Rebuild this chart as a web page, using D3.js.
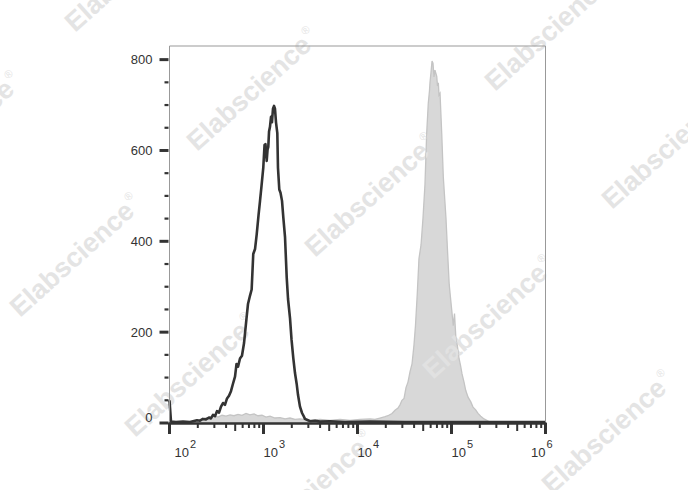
<!DOCTYPE html>
<html><head><meta charset="utf-8">
<script src="https://cdn.jsdelivr.net/npm/d3@7"></script>
<style>body{margin:0;background:#fff}svg{display:block}</style>
</head><body>
<svg id="c" width="688" height="490"></svg>
<script>
// ---- data ----
const yTickValues = [0, 200, 400, 600, 800];
const yMinorStep = 50;
const xDecades = [2, 3, 4, 5, 6];          // exponents: 10^2 … 10^6
const watermarkText = "Elabscience";

// unfilled dark histogram (log10 fluorescence, count)
const blackLogFL = [2.000,2.016,2.069,2.144,2.218,2.293,2.324,2.356,2.388,2.420,2.441,2.463,2.484,2.505,2.527,2.548,2.569,2.590,2.612,2.633,2.654,2.676,2.697,2.713,2.729,2.750,2.771,2.793,2.803,2.819,2.835,2.856,2.874,2.891,2.910,2.928,2.947,2.963,2.979,2.998,3.011,3.021,3.034,3.043,3.051,3.059,3.069,3.080,3.090,3.101,3.112,3.122,3.133,3.147,3.154,3.168,3.181,3.197,3.211,3.229,3.247,3.261,3.282,3.298,3.317,3.335,3.353,3.367,3.388,3.410,3.423,3.441,3.473,3.495,3.548,3.601,3.707,3.867,4.133,4.500,5.000,6.000];
const blackCount = [50,3,2,3,2,6,5,9,8,12,10,18,15,26,23,36,44,40,54,60,70,87,102,130,124,142,148,176,197,230,262,280,294,372,383,416,457,489,522,563,612,614,577,602,608,642,652,674,662,692,698,692,662,638,562,514,507,489,452,409,320,273,231,184,143,110,86,62,36,22,17,9,6,4,5,3,4,2,3,2,2,2];

// filled grey histogram
const greyLogFL = [2.000,2.218,2.293,2.356,2.431,2.473,2.516,2.559,2.601,2.644,2.686,2.729,2.771,2.814,2.856,2.899,2.941,2.984,3.027,3.069,3.122,3.176,3.229,3.282,3.335,3.388,3.495,3.601,3.707,3.814,3.920,4.027,4.133,4.186,4.239,4.293,4.324,4.367,4.399,4.431,4.452,4.473,4.495,4.516,4.537,4.559,4.580,4.601,4.617,4.636,4.654,4.676,4.697,4.718,4.736,4.753,4.766,4.771,4.782,4.793,4.803,4.814,4.824,4.843,4.851,4.860,4.867,4.878,4.896,4.913,4.941,4.957,4.976,4.995,5.019,5.032,5.048,5.062,5.080,5.096,5.112,5.133,5.151,5.176,5.204,5.229,5.257,5.282,5.311,5.346,5.399,5.450,6.000];
const greyCount = [0,1,4,9,13,16,13,17,15,18,16,19,17,21,18,20,16,17,13,15,11,12,9,11,8,9,6,8,6,8,6,8,9,8,11,14,16,21,28,33,40,50,54,78,90,113,130,172,215,285,362,392,452,526,638,704,732,749,772,797,792,762,777,763,742,749,722,726,638,541,452,382,304,264,214,241,182,171,142,127,108,90,72,57,47,35,29,21,15,9,3,0,0];

// ---- layout ----
const FONT = "'Liberation Sans', Arial, Helvetica, sans-serif";
const plot = {left: 169.5, right: 545.5, top: 46, bottom: 423};
const x = d3.scaleLinear().domain([2, 6]).range([plot.left, plot.right]);
const y = d3.scaleLinear().domain([0, 830]).range([plot.bottom, plot.top]);

// watermark baseline starting points (decoration)
const watermarkAnchors = [[75,33],[197,152],[315,258],[433,380],[552,495],[-100,196],[20,318],[135,438],[253,555],[495,92],[612,210]];

const svg = d3.select("#c");
svg.append("rect").attr("width", 688).attr("height", 490).attr("fill", "#fff");

function drawWatermarks(g, color) {
  watermarkAnchors.forEach(([wx, wy]) => {
    const t = g.append("text")
      .attr("transform", `translate(${wx},${wy}) rotate(-42)`)
      .attr("font-family", FONT).attr("font-weight", "bold")
      .attr("font-size", 27).attr("fill", color);
    t.append("tspan").text(watermarkText);
    t.append("tspan").attr("font-size", 11).attr("font-weight", "normal")
      .attr("dx", 2).attr("dy", -14).text("®");
  });
}
drawWatermarks(svg.append("g"), "#e4e4e4");

// grey filled histogram
const area = d3.area()
  .x((d, i) => x(greyLogFL[i]))
  .y0(y(0))
  .y1((d, i) => y(greyCount[i]));
const greyPath = area(greyCount);
svg.append("clipPath").attr("id", "greyClip").append("path").attr("d", greyPath);
svg.append("path").attr("d", greyPath)
  .attr("fill", "#d8d8d8").attr("stroke", "#c4c4c4").attr("stroke-width", 1.3);
drawWatermarks(svg.append("g").attr("clip-path", "url(#greyClip)"), "#e1e1e1");

// black line histogram
const line = d3.line()
  .x((d, i) => x(blackLogFL[i]))
  .y((d, i) => y(blackCount[i]));
svg.append("path").attr("d", line(blackCount))
  .attr("fill", "none").attr("stroke", "#333").attr("stroke-width", 2.6)
  .attr("stroke-linejoin", "round");

// frame
svg.append("line").attr("x1", plot.left).attr("x2", plot.right).attr("y1", plot.top).attr("y2", plot.top)
  .attr("stroke", "#999").attr("stroke-width", 1);
svg.append("line").attr("x1", plot.right).attr("x2", plot.right).attr("y1", plot.top).attr("y2", plot.bottom)
  .attr("stroke", "#999").attr("stroke-width", 1);
svg.append("line").attr("x1", plot.left).attr("x2", plot.left).attr("y1", plot.top).attr("y2", plot.bottom)
  .attr("stroke", "#999").attr("stroke-width", 1);

// y axis ticks
const yMinor = d3.range(0, 800 + 1, yMinorStep).filter(v => !yTickValues.includes(v));
svg.append("g").selectAll("line").data(yMinor).join("line")
  .attr("x1", plot.left - 5).attr("x2", plot.left - 1)
  .attr("y1", d => y(d)).attr("y2", d => y(d))
  .attr("stroke", "#333").attr("stroke-width", 2.2);
svg.append("g").selectAll("line").data(yTickValues).join("line")
  .attr("x1", plot.left - 10).attr("x2", plot.left - 1)
  .attr("y1", d => y(d)).attr("y2", d => y(d))
  .attr("stroke", "#333").attr("stroke-width", 3);
svg.append("g").selectAll("text").data(yTickValues).join("text")
  .attr("x", plot.left - 17)
  .attr("y", d => y(d) + (d === 0 ? -6 : 0))
  .attr("dy", "0.35em")
  .attr("text-anchor", "end")
  .attr("font-family", FONT).attr("font-size", 13).attr("fill", "#333")
  .text(d => d);

// x axis
svg.append("line").attr("x1", plot.left - 1).attr("x2", plot.right + 1)
  .attr("y1", plot.bottom + 0.5).attr("y2", plot.bottom + 0.5)
  .attr("stroke", "#333").attr("stroke-width", 2.4);
const xMinor = [];
xDecades.slice(0, -1).forEach(d => { for (let k = 2; k <= 9; k++) xMinor.push({v: d + Math.log10(k), k}); });
svg.append("g").selectAll("line").data(xMinor).join("line")
  .attr("x1", d => x(d.v)).attr("x2", d => x(d.v))
  .attr("y1", plot.bottom).attr("y2", d => plot.bottom + (d.k === 5 ? 8 : 5))
  .attr("stroke", "#333").attr("stroke-width", 2);
svg.append("g").selectAll("line").data(xDecades).join("line")
  .attr("x1", d => x(d)).attr("x2", d => x(d))
  .attr("y1", plot.bottom).attr("y2", plot.bottom + 11)
  .attr("stroke", "#333").attr("stroke-width", 3);
const xl = svg.append("g").selectAll("text").data(xDecades).join("text")
  .attr("x", (d, i) => i === 0 ? x(d) + 5 : (i === xDecades.length - 1 ? x(d) + 7 : x(d)))
  .attr("y", 457)
  .attr("text-anchor", (d, i) => i === xDecades.length - 1 ? "end" : "start")
  .attr("font-family", FONT).attr("font-size", 13).attr("fill", "#333");
xl.append("tspan").text("10");
xl.append("tspan").attr("font-size", 11).attr("dy", -9).attr("dx", 1).text(d => d);
</script>
</body></html>
